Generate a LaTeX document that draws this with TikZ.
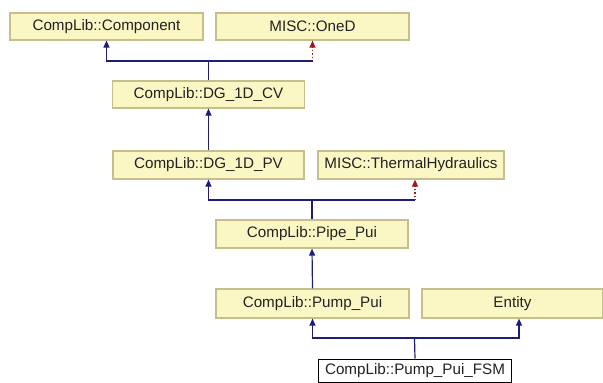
\documentclass[tikz,border=0pt]{standalone}
\usepackage{fontspec}
\setmainfont{Liberation Sans}
\usetikzlibrary{arrows.meta}
\definecolor{boxfill}{HTML}{FBF7C4}
\definecolor{boxdraw}{HTML}{C4C08C}
\definecolor{pubblue}{HTML}{1E1E78}
\definecolor{privred}{HTML}{9B1B1B}
\definecolor{txt}{HTML}{222222}
\begin{document}
\begin{tikzpicture}[x=1pt,y=-1pt,
  cls/.style={draw=boxdraw, fill=boxfill, line width=1.2pt, minimum height=27pt,
    inner sep=0pt, text=txt, font=\fontsize{15.2}{18}\selectfont},
  cur/.style={draw=black, fill=white, line width=1pt, minimum height=23pt,
    inner sep=0pt, text=txt, font=\fontsize{15.2}{18}\selectfont},
  pub/.style={draw=pubblue, line width=1.2pt},
  puba/.style={pub, -{Triangle[length=7pt,width=6pt]}},
  privd/.style={draw=privred, line width=1.2pt, dotted, -{Triangle[length=7pt,width=6pt,fill=privred]}}]
\useasboundingbox (0,0) rectangle (603,383);
\node[cls, minimum width=193pt] (comp) at (106.5,26.5) {CompLib::Component};
\node[cls, minimum width=193pt] (oned) at (312.5,26.5) {MISC::OneD};
\node[cls, minimum width=192pt] (cv) at (208.5,94.5) {CompLib::DG\_1D\_CV};
\node[cls, minimum width=191pt, minimum height=28pt] (pv) at (208.5,165) {CompLib::DG\_1D\_PV};
\node[cls, minimum width=186pt, minimum height=28pt] (th) at (411,165) {MISC::ThermalHydraulics};
\node[cls, minimum width=192pt, minimum height=28pt] (pipe) at (312,234) {CompLib::Pipe\_Pui};
\node[cls, minimum width=193pt, minimum height=29pt] (pump) at (312.5,303.5) {CompLib::Pump\_Pui};
\node[cls, minimum width=181pt, minimum height=29pt] (entity) at (512.5,303.5) {Entity};
\node[cur, minimum width=193pt] (fsm) at (415,370.5) {CompLib::Pump\_Pui\_FSM};
% level 1
\coordinate (j1) at (208.5,61);
\draw[pub] (cv.north) -- (j1);
\draw[puba] (j1) -| (comp.south);
\draw[pub] (j1) -- (j1 -| oned.south);
\draw[privd] (j1 -| oned.south) -- (oned.south);
% level 2
\draw[puba] (pv.north) -- (cv.south);
% level 3
\coordinate (j2) at (312,200);
\coordinate (tht) at ([xshift=4pt]th.south);
\draw[pub] (pipe.north) -- (j2);
\draw[puba] (j2) -| (pv.south);
\draw[pub] (j2) -- (j2 -| tht);
\draw[privd] (j2 -| tht) -- (tht);
% level 4
\draw[puba] (pump.north) -- (pipe.south);
% level 5
\coordinate (j3) at (414.5,338);
\coordinate (ent) at ([xshift=6.5pt]entity.south);
\draw[pub] (fsm.north) -- (j3);
\draw[puba] (j3) -| (pump.south);
\draw[puba] (j3) -| (ent);
\end{tikzpicture}
\end{document}
